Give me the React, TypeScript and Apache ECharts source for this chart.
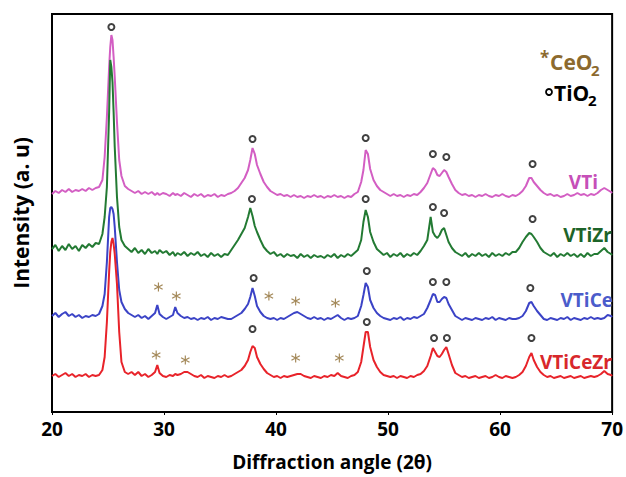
import React, { useEffect, useRef } from "react";
import * as echarts from "echarts";

// 2θ sampling grid (degrees)
const twoTheta = [
  20.0, 20.3, 20.6, 20.9, 21.2, 21.5, 21.8, 22.1, 22.4, 22.7,
  23.0, 23.3, 23.6, 23.9, 24.2, 24.5, 24.7, 24.9, 25.1, 25.2,
  25.3, 25.4, 25.5, 25.6, 25.8, 26.0, 26.2, 26.5, 26.8, 27.1,
  27.4, 27.7, 28.0, 28.3, 28.6, 28.9, 29.2, 29.4, 29.6, 29.9,
  30.2, 30.5, 30.8, 31.0, 31.2, 31.5, 31.8, 32.1, 32.4, 32.7,
  33.0, 33.3, 33.6, 33.9, 34.2, 34.5, 34.8, 35.1, 35.4, 35.7,
  36.0, 36.3, 36.6, 36.9, 37.2, 37.5, 37.7, 37.9, 38.1, 38.3,
  38.6, 38.9, 39.2, 39.5, 39.8, 40.1, 40.4, 40.7, 41.0, 41.3,
  41.6, 41.9, 42.2, 42.5, 42.8, 43.1, 43.4, 43.7, 44.0, 44.3,
  44.6, 44.9, 45.2, 45.5, 45.8, 46.1, 46.4, 46.7, 47.0, 47.3,
  47.6, 47.8, 48.0, 48.2, 48.4, 48.7, 49.0, 49.3, 49.6, 49.9,
  50.2, 50.5, 50.8, 51.1, 51.4, 51.7, 52.0, 52.3, 52.6, 52.9,
  53.2, 53.5, 53.8, 54.0, 54.2, 54.4, 54.6, 54.8, 55.0, 55.2,
  55.4, 55.7, 56.0, 56.3, 56.6, 56.9, 57.2, 57.5, 57.8, 58.1,
  58.4, 58.7, 59.0, 59.3, 59.6, 59.9, 60.2, 60.5, 60.8, 61.1,
  61.4, 61.7, 62.0, 62.3, 62.6, 62.8, 63.0, 63.3, 63.6, 63.9,
  64.2, 64.5, 64.8, 65.1, 65.4, 65.7, 66.0, 66.3, 66.6, 66.9,
  67.2, 67.5, 67.8, 68.1, 68.4, 68.7, 69.0, 69.3, 69.6, 69.9,
  70.0,
];

// Stacked (offset) intensities, arbitrary units
const vti = [
  218, 221, 219, 222, 220, 223, 220, 222, 221, 223,
  221, 224, 222, 224, 225, 232, 255, 295, 345, 365,
  377, 372, 355, 335, 290, 252, 236, 226, 223, 221,
  219, 221, 218, 220, 218, 220, 217, 219, 217, 219,
  218, 216, 219, 217, 218, 216, 219, 217, 215, 218,
  216, 218, 215, 217, 216, 218, 215, 217, 216, 218,
  219, 221, 224, 229, 234, 242, 252, 264, 258, 247,
  238, 230, 225, 221, 219, 217, 218, 216, 217, 215,
  217, 215, 216, 214, 216, 215, 217, 215, 216, 214,
  216, 215, 217, 215, 216, 214, 216, 215, 218, 220,
  230, 242, 262, 258, 243, 232, 226, 222, 220, 218,
  216, 218, 216, 217, 215, 217, 216, 218, 217, 220,
  224, 229, 238, 244, 242, 237, 236, 239, 242, 240,
  235, 228, 222, 219, 217, 218, 216, 217, 215, 217,
  216, 218, 216, 215, 217, 216, 218, 216, 215, 217,
  216, 218, 221, 226, 234, 234, 230, 226, 222, 219,
  217, 218, 216, 217, 215, 216, 218, 216, 217, 219,
  217, 218, 216, 218, 217, 219, 222, 224, 222, 220,
  219,
];

const vtiZr = [
  163, 167, 161, 166, 162, 168, 163, 166, 161, 167,
  164, 168, 165, 169, 168, 178, 195, 225, 300, 352,
  345, 330, 300, 265, 215, 185, 172, 166, 163, 160,
  164, 159, 162, 158, 163, 159, 161, 158, 162, 159,
  161, 157, 160, 156, 159, 157, 160, 156, 159, 157,
  160, 156, 158, 155, 159, 156, 158, 155, 158, 157,
  162, 167, 172, 178, 184, 195, 204, 196, 186, 180,
  172, 165, 161, 158, 160, 156, 158, 155, 158, 156,
  157, 154, 158, 155, 157, 154, 157, 155, 156, 154,
  157, 155, 158, 154, 157, 155, 158, 156, 159, 162,
  172, 190, 202, 195, 180, 170, 163, 160, 157, 159,
  155, 158, 156, 159, 155, 158, 156, 159, 157, 161,
  166, 172, 195, 180, 176, 174, 177, 182, 184, 177,
  170, 164, 160, 158, 156, 159, 155, 158, 156, 159,
  156, 158, 155, 159, 156, 158, 156, 159, 157, 160,
  160, 164, 170, 175, 179, 178, 175, 170, 164, 160,
  158, 156, 159, 155, 158, 156, 159, 156, 158, 155,
  158, 155, 159, 156, 158, 158, 161, 164, 160, 158,
  157,
];

const vtiCe = [
  96, 99, 95, 98, 100, 96, 98, 95, 97, 94,
  96, 95, 97, 96, 98, 106, 118, 150, 195, 204,
  205, 203, 198, 185, 150, 122, 110, 103, 99, 97,
  95, 97, 94, 96, 93, 96, 99, 107, 98, 95,
  93, 95, 97, 105, 99, 96, 94, 95, 93, 94,
  92, 94, 93, 95, 92, 94, 93, 95, 94, 93,
  93, 95, 97, 99, 103, 108, 115, 124, 116, 106,
  100, 96, 94, 93, 94, 92, 94, 93, 95, 97,
  99, 100, 98, 96, 94, 93, 95, 93, 94, 92,
  94, 93, 95, 97, 94, 92, 94, 93, 94, 96,
  106, 117, 129, 125, 112, 104, 99, 96, 94, 93,
  92, 94, 93, 95, 92, 94, 93, 95, 94, 96,
  98, 104, 112, 118, 117, 110, 110, 113, 115, 114,
  108, 102, 96, 94, 92, 94, 93, 92, 94, 93,
  92, 94, 93, 95, 92, 94, 93, 92, 94, 93,
  93, 94, 96, 101, 109, 110, 106, 101, 97, 93,
  92, 94, 93, 92, 94, 93, 95, 92, 94, 93,
  92, 94, 93, 95, 93, 94, 93, 94, 97, 96,
  95,
];

const vtiCeZr = [
  36, 38, 35, 37, 39, 36, 38, 35, 37, 36,
  38, 35, 37, 36, 37, 42, 55, 90, 140, 160,
  170, 174, 168, 158, 128, 80, 50, 40, 38, 40,
  37, 40, 36, 38, 35, 37, 40, 47, 39, 36,
  35, 37, 36, 38, 37, 38, 40, 40, 38, 36,
  35, 37, 34, 36, 35, 34, 36, 35, 37, 35,
  36, 38, 40, 42, 46, 52, 60, 66, 64, 55,
  48, 43, 39, 37, 35, 36, 34, 36, 35, 36,
  37, 38, 38, 36, 35, 34, 36, 35, 34, 36,
  35, 37, 36, 39, 36, 35, 34, 36, 37, 40,
  50, 65, 80, 80, 65, 52, 45, 40, 37, 36,
  35, 36, 34, 36, 35, 34, 36, 35, 37, 38,
  41, 46, 56, 64, 60, 56, 55, 58, 62, 65,
  58, 47, 39, 37, 35, 36, 34, 35, 36, 34,
  35, 36, 34, 35, 37, 35, 34, 36, 35, 34,
  35, 37, 40, 46, 55, 59, 52, 45, 40, 37,
  35, 36, 34, 35, 36, 34, 35, 36, 34, 35,
  36, 34, 35, 36, 35, 36, 38, 41, 38, 37,
  36,
];

const sampleNames = ["VTi", "VTiZr", "VTiCe", "VTiCeZr"];

// TiO2 reflections marked with "o" (2θ, height)
const tio2Marks = [
  [25.3, 385], [37.9, 273], [48.0, 274], [54.0, 258], [55.2, 255], [62.9, 248],
  [37.85, 213], [48.0, 213], [54.0, 205], [55.0, 199], [62.9, 193],
  [38.0, 134], [48.1, 141], [54.0, 130], [55.2, 130], [62.7, 124],
  [37.9, 83], [48.1, 90], [54.1, 74], [55.25, 74], [62.8, 74],
];

// CeO2 reflections marked with "*" (2θ, height)
const ceo2Marks = [
  [29.5, 125], [31.1, 116], [39.36, 116], [41.75, 111], [45.3, 109],
  [29.3, 57], [31.9, 52], [41.75, 54], [45.65, 54],
];

const xTicks = { min: 20, max: 70, step: 10 };

const COLORS = ["#d35ec3", "#237a33", "#3b43c6", "#e8232a"];
const LABEL_COLORS = ["#c64fb8", "#1d6429", "#4b5ccb", "#d8282c"];
const BROWN = "#8c6a2e";
const FONT = "'Open Sans', 'Noto Sans', sans-serif";

const ASTERISK =
  "path://M4.4 0 L5.6 0 L5.6 10 L4.4 10 Z M0.97 1.98 L9.63 6.98 L9.03 8.02 L0.37 3.02 Z M9.63 3.02 L0.97 8.02 L0.37 6.98 L9.03 1.98 Z";

export default function App() {
  const ref = useRef<HTMLDivElement>(null);

  useEffect(() => {
    document.body.style.margin = "0";
    const chart = echarts.init(ref.current!, undefined, { renderer: "svg" });
    const seriesData = [vti, vtiZr, vtiCe, vtiCeZr];

    const lineSeries = seriesData.map((vals, i) => ({
      type: "line",
      name: sampleNames[i],
      data: twoTheta.map((t, k) => [t, vals[k]]),
      showSymbol: false,
      lineStyle: { color: COLORS[i], width: 2 },
      itemStyle: { color: COLORS[i] },
      z: 2 + i,
    }));

    const labelPos = [
      { x: 598, y: 182 },
      { x: 612, y: 235 },
      { x: 613, y: 300 },
      { x: 612, y: 362 },
    ];

    const textEl = (text: string, x: number, y: number, size: number, fill: string, align = "left") => ({
      type: "text",
      x,
      y,
      z: 100,
      style: {
        text,
        fill,
        font: `bold ${size}px ${FONT}`,
        textAlign: align,
        textVerticalAlign: "middle",
        align,
        verticalAlign: "middle",
      },
    });

    chart.setOption({
      animation: false,
      backgroundColor: "#ffffff",
      grid: {
        left: 52,
        right: 11,
        top: 14,
        bottom: 65,
        show: true,
        borderColor: "#000",
        borderWidth: 2,
        backgroundColor: "transparent",
      },
      xAxis: {
        type: "value",
        min: xTicks.min,
        max: xTicks.max,
        interval: xTicks.step,
        name: "Diffraction angle (2θ)",
        nameLocation: "middle",
        nameGap: 40,
        nameTextStyle: { fontFamily: FONT, fontWeight: "bold", fontSize: 19, color: "#000" },
        axisLine: { lineStyle: { color: "#000", width: 2 } },
        axisTick: { show: true, length: 3, lineStyle: { color: "#000" } },
        splitLine: { show: false },
        axisLabel: { fontFamily: FONT, fontWeight: "bold", fontSize: 19, color: "#000", margin: 7 },
      },
      yAxis: {
        type: "value",
        min: 0,
        max: 398,
        name: "Intensity (a. u)",
        nameLocation: "middle",
        nameGap: 21,
        nameRotate: 90,
        nameTextStyle: { fontFamily: FONT, fontWeight: "bold", fontSize: 21, color: "#000" },
        axisLine: { show: true, lineStyle: { color: "#000", width: 2 } },
        axisTick: { show: false },
        axisLabel: { show: false },
        splitLine: { show: false },
      },
      series: [
        ...lineSeries,
        {
          type: "scatter",
          name: "TiO2",
          data: tio2Marks,
          symbol: "emptyCircle",
          symbolSize: 6,
          itemStyle: { color: "#111", borderWidth: 2 },
          z: 10,
        },
        {
          type: "scatter",
          name: "CeO2",
          data: ceo2Marks,
          symbol: ASTERISK,
          symbolSize: 9,
          itemStyle: { color: BROWN },
          z: 10,
        },
      ],
      graphic: [
        ...sampleNames.map((n, i) =>
          textEl(n, labelPos[i].x, labelPos[i].y, 19, LABEL_COLORS[i], "right")
        ),
        textEl("*", 540, 57, 17, BROWN),
        textEl("CeO", 550, 62, 21, BROWN),
        textEl("2", 591, 70, 15, BROWN),
        {
          type: "circle",
          shape: { cx: 549, cy: 92, r: 3 },
          style: { fill: "#fff", stroke: "#000", lineWidth: 1.8 },
          z: 100,
        },
        textEl("TiO", 554, 93, 21, "#000"),
        textEl("2", 588, 100, 15, "#000"),
      ],
    });

    return () => chart.dispose();
  }, []);

  return <div ref={ref} style={{ width: 626, height: 477 }} />;
}
